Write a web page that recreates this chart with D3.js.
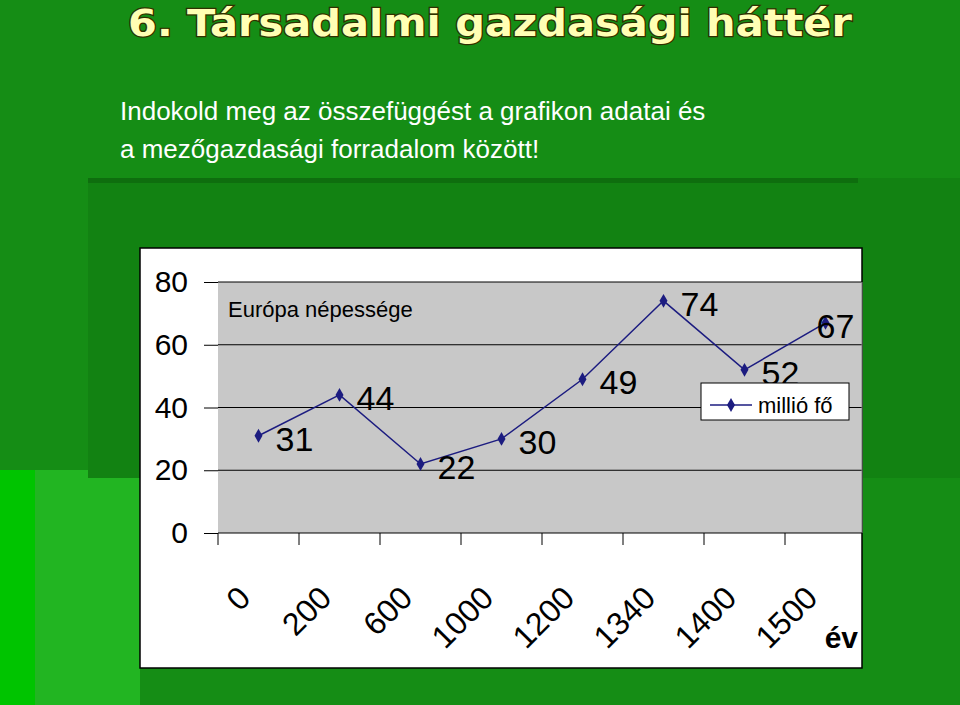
<!DOCTYPE html>
<html><head><meta charset="utf-8">
<script src="https://cdn.jsdelivr.net/npm/d3@7"></script>
<style>body{margin:0;overflow:hidden}</style></head>
<body><svg id="c" width="960" height="705"></svg>
<script>
const categories = ["0","200","600","1000","1200","1340","1400","1500"];
const values = [31,44,22,30,49,74,52,67];
const yTicks = [0,20,40,60,80];
const title = "6. Társadalmi gazdasági háttér";
const subtitle = ["Indokold meg az összefüggést a grafikon adatai és","a mezőgazdasági forradalom között!"];

const svg = d3.select("#c");
svg.append("rect").attr("width",960).attr("height",705).attr("fill","#158d15");
svg.append("rect").attr("x",0).attr("y",470).attr("width",140).attr("height",235).attr("fill","#22b522");
svg.append("rect").attr("x",0).attr("y",470).attr("width",35).attr("height",235).attr("fill","#00c400");
svg.append("rect").attr("x",88).attr("y",178).attr("width",872).attr("height",300).attr("fill","#128212");
svg.append("rect").attr("x",88).attr("y",178).attr("width",770).attr("height",5).attr("fill","#0c600c").attr("opacity",0.6);

svg.append("text").attr("x",128).attr("y",36).attr("textLength",724).attr("lengthAdjust","spacingAndGlyphs")
  .attr("font-family","DejaVu Sans, Liberation Sans").attr("font-weight","bold").attr("font-size",38)
  .attr("fill","#ffffb4").attr("stroke","#303000").attr("stroke-width",2.5).attr("paint-order","stroke").text(title);
subtitle.forEach((s,i)=>svg.append("text").attr("x",120).attr("y",120+i*38)
  .attr("font-family","Liberation Sans, Arial").attr("font-size",26).attr("fill","#fff").text(s));

svg.append("rect").attr("x",140).attr("y",248).attr("width",722).attr("height",420).attr("fill","#fff").attr("stroke","#000").attr("stroke-width",1.5);
const x = d3.scaleBand().domain(categories).range([218,866]);
const y = d3.scaleLinear().domain([0,80]).range([533,282]);
svg.append("rect").attr("x",218).attr("y",y(80)).attr("width",644).attr("height",y(0)-y(80)).attr("fill","#c8c8c8");
svg.append("g").selectAll("line").data(yTicks.filter(d=>d>0)).join("line")
  .attr("x1",218).attr("x2",862).attr("y1",d=>y(d)).attr("y2",d=>y(d)).attr("stroke","#000").attr("stroke-width",1);
svg.append("line").attr("x1",862).attr("x2",862).attr("y1",y(80)).attr("y2",y(0)).attr("stroke","#808080");
const ya = svg.append("g").attr("transform","translate(218,0)").call(d3.axisLeft(y).tickValues(yTicks).tickSize(14).tickPadding(16));
ya.select(".domain").remove();
ya.selectAll("text").attr("font-family","Liberation Sans, Arial").attr("font-size",30).attr("fill","#000");
const xa = svg.append("g").attr("transform",`translate(0,${y(0)})`).call(d3.axisBottom(x).tickSize(12).tickFormat(""));
xa.select(".domain").attr("d","M218,0H862");
xa.selectAll(".tick line").attr("transform",`translate(${-x.bandwidth()/2},0)`);
svg.append("g").selectAll("text").data(categories).join("text")
  .attr("transform",d=>`translate(${x(d)+x.bandwidth()/2-22},${584}) rotate(-45)`)
  .attr("text-anchor","end").attr("dy","0.7em")
  .attr("font-family","Liberation Sans, Arial").attr("font-size",32).text(d=>d);
svg.append("text").attr("x",858).attr("y",648).attr("text-anchor","end").attr("font-family","Liberation Sans, Arial").attr("font-weight","bold").attr("font-size",30).text("év");
svg.append("text").attr("x",228).attr("y",317).attr("font-family","Liberation Sans, Arial").attr("font-size",22).text("Európa népessége");

const cx = d=>x(d)+x.bandwidth()/2;
svg.append("path").datum(values).attr("fill","none").attr("stroke","#1c1c80").attr("stroke-width",1.5)
  .attr("d",d3.line().x((v,i)=>cx(categories[i])).y(v=>y(v)));
const diamond = d3.symbol().type(d3.symbolDiamond).size(55);
svg.append("g").selectAll("path").data(values).join("path").attr("d",diamond)
  .attr("transform",(v,i)=>`translate(${cx(categories[i])},${y(v)})`).attr("fill","#1c1c80");
svg.append("g").selectAll("text").data(values).join("text")
  .attr("x",(v,i)=>cx(categories[i])+(i===7?-9:17)).attr("y",v=>y(v)+15)
  .attr("font-family","Liberation Sans, Arial").attr("font-size",34).text(v=>v);

svg.append("rect").attr("x",701).attr("y",383).attr("width",148).attr("height",37).attr("fill","#fff").attr("stroke","#000");
svg.append("line").attr("x1",710).attr("x2",752).attr("y1",405).attr("y2",405).attr("stroke","#1c1c80").attr("stroke-width",1.5);
svg.append("path").attr("d",diamond).attr("transform","translate(731,405)").attr("fill","#1c1c80");
svg.append("text").attr("x",758).attr("y",413).attr("font-family","Liberation Sans, Arial").attr("font-size",22).text("millió fő");
</script></body></html>
